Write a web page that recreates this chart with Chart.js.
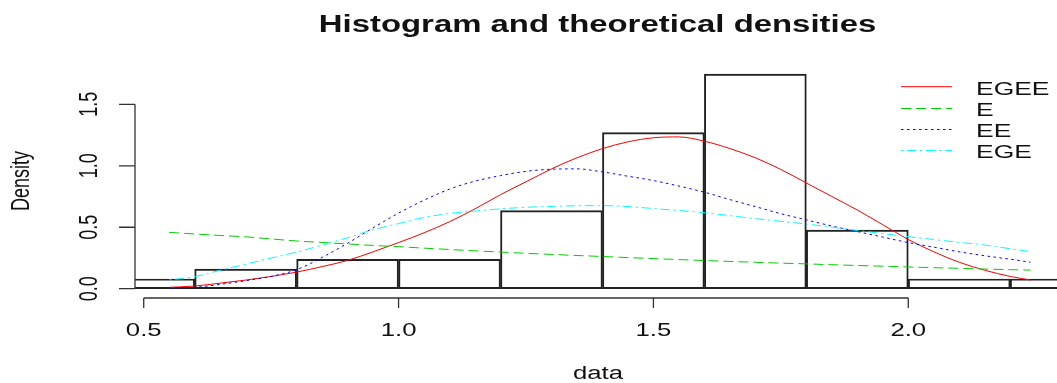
<!DOCTYPE html>
<html>
<head>
<meta charset="utf-8">
<script src="https://cdn.jsdelivr.net/npm/chart.js@4.4.1/dist/chart.umd.min.js"></script>
<style>
html,body{margin:0;padding:0;background:#ffffff;}
#wrap{width:1057px;height:383px;position:relative;}
</style>
</head>
<body>
<div id="wrap"><canvas id="c"></canvas></div>
<script>
// ---- data ----
const binCenters = [0.5, 0.7, 0.9, 1.1, 1.3, 1.5, 1.7, 1.9, 2.1, 2.3];
const binDensity = [0.079, 0.159, 0.238, 0.238, 0.635, 1.270, 1.746, 0.476, 0.079, 0.079];

const curveX = [0.55, 0.60, 0.65, 0.70, 0.75, 0.80, 0.85, 0.90, 0.95, 1.00, 1.05, 1.10, 1.15, 1.20, 1.25, 1.30, 1.35, 1.40, 1.45, 1.50, 1.55, 1.60, 1.65, 1.70, 1.75, 1.80, 1.85, 1.90, 1.95, 2.00, 2.05, 2.10, 2.15, 2.20, 2.24];
const egeeY = [0.011, 0.022, 0.045, 0.070, 0.100, 0.135, 0.180, 0.230, 0.300, 0.375, 0.455, 0.545, 0.650, 0.765, 0.870, 0.975, 1.065, 1.140, 1.195, 1.228, 1.235, 1.200, 1.140, 1.065, 0.970, 0.860, 0.750, 0.640, 0.520, 0.400, 0.300, 0.215, 0.150, 0.100, 0.070];
const eY    = [0.458, 0.445, 0.433, 0.422, 0.405, 0.388, 0.376, 0.364, 0.352, 0.342, 0.330, 0.319, 0.308, 0.298, 0.288, 0.279, 0.270, 0.262, 0.253, 0.245, 0.237, 0.229, 0.222, 0.215, 0.208, 0.202, 0.195, 0.189, 0.183, 0.177, 0.171, 0.166, 0.160, 0.155, 0.151];
const eeY   = [0.004, 0.011, 0.035, 0.065, 0.100, 0.155, 0.255, 0.370, 0.495, 0.615, 0.720, 0.810, 0.875, 0.920, 0.955, 0.972, 0.975, 0.950, 0.915, 0.880, 0.835, 0.785, 0.725, 0.668, 0.610, 0.560, 0.510, 0.465, 0.420, 0.375, 0.338, 0.300, 0.268, 0.240, 0.215];
const egeY  = [0.071, 0.098, 0.150, 0.200, 0.250, 0.298, 0.355, 0.415, 0.480, 0.530, 0.580, 0.612, 0.632, 0.650, 0.662, 0.670, 0.675, 0.676, 0.668, 0.652, 0.636, 0.618, 0.594, 0.570, 0.548, 0.526, 0.500, 0.474, 0.448, 0.423, 0.400, 0.377, 0.355, 0.325, 0.302];

const seriesNames = ['EGEE', 'E', 'EE', 'EGE'];
const xTicks = [0.5, 1.0, 1.5, 2.0];
const xTickLabels = ['0.5', '1.0', '1.5', '2.0'];
const yTicks = [0.0, 0.5, 1.0, 1.5];
const yTickLabels = ['0.0', '0.5', '1.0', '1.5'];
const titleText = 'Histogram and theoretical densities';
const xTitle = 'data';
const yTitle = 'Density';

// ---- styles ----
const FONT = '"Liberation Sans", Arial, Helvetica, sans-serif';
const SX = 1.43; // horizontal text stretch of the reference
const colors = ['#ff0000', '#00cd00', '#0000ff', '#00ffff'];
const dashes = [[], [10, 5], [2.5, 3.5], [2, 4, 9, 4]];
const AXIS = '#333333';

function pts(xs, ys) { return xs.map((x, i) => ({ x: x, y: ys[i] })); }

function stext(ctx, str, x, y, font, align, baseline, rot) {
  ctx.save();
  ctx.translate(x, y);
  ctx.scale(SX, 1);
  if (rot) ctx.rotate(rot);
  ctx.font = font;
  ctx.fillStyle = '#111111';
  ctx.textAlign = align;
  ctx.textBaseline = baseline;
  ctx.fillText(str, 0, 0);
  ctx.restore();
}

const rAxes = {
  id: 'rAxes',
  afterDraw(chart) {
    const ctx = chart.ctx;
    const xs = chart.scales.x, ys = chart.scales.y;
    const ca = chart.chartArea;
    ctx.save();
    ctx.strokeStyle = AXIS;
    ctx.lineWidth = 1.3;
    ctx.setLineDash([]);
    // x axis
    const xa = ca.bottom;
    const x0 = xs.getPixelForValue(xTicks[0]);
    const x1 = xs.getPixelForValue(xTicks[xTicks.length - 1]);
    ctx.beginPath();
    ctx.moveTo(x0, xa); ctx.lineTo(x1, xa);
    xTicks.forEach(v => { const p = xs.getPixelForValue(v); ctx.moveTo(p, xa); ctx.lineTo(p, xa + 10); });
    ctx.stroke();
    // y axis
    const ya = ca.left;
    const y0 = ys.getPixelForValue(yTicks[0]);
    const y1 = ys.getPixelForValue(yTicks[yTicks.length - 1]);
    ctx.beginPath();
    ctx.moveTo(ya, y0); ctx.lineTo(ya, y1);
    yTicks.forEach(v => { const p = ys.getPixelForValue(v); ctx.moveTo(ya, p); ctx.lineTo(ya - 16, p); });
    ctx.stroke();
    ctx.restore();

    const tickFont = '18px ' + FONT;
    xTicks.forEach((v, i) => stext(ctx, xTickLabels[i], xs.getPixelForValue(v), 336, tickFont, 'center', 'alphabetic', 0));
    yTicks.forEach((v, i) => stext(ctx, yTickLabels[i], 96.5, ys.getPixelForValue(v), tickFont, 'center', 'alphabetic', -Math.PI / 2));

    // titles
    stext(ctx, titleText, 597.5, 31.5, 'bold 23px ' + FONT, 'center', 'alphabetic', 0);
    stext(ctx, xTitle, 598, 379, '18px ' + FONT, 'center', 'alphabetic', 0);
    stext(ctx, yTitle, 28.5, 181, '18px ' + FONT, 'center', 'alphabetic', -Math.PI / 2);

    // legend (top right, no box)
    const ly = [86.7, 108.5, 129.5, 150.5];
    seriesNames.forEach((name, i) => {
      ctx.save();
      ctx.strokeStyle = colors[i];
      ctx.lineWidth = 1;
      ctx.setLineDash(dashes[i]);
      ctx.beginPath();
      ctx.moveTo(901, ly[i]); ctx.lineTo(952, ly[i]);
      ctx.stroke();
      ctx.restore();
      stext(ctx, name, 976, ly[i] + 7.8, '18.5px ' + FONT, 'left', 'alphabetic', 0);
    });
  }
};

const lineDs = (label, ys, i) => ({
  type: 'line',
  label: label,
  data: pts(curveX, ys),
  borderColor: colors[i],
  borderWidth: 1,
  borderDash: dashes[i],
  pointRadius: 0,
  fill: false,
  cubicInterpolationMode: 'monotone',
  order: 4 - i
});

new Chart(document.getElementById('c'), {
  type: 'bar',
  data: {
    datasets: [
      {
        type: 'bar',
        label: 'hist',
        data: pts(binCenters, binDensity),
        backgroundColor: 'rgba(0,0,0,0)',
        borderColor: '#222222',
        borderWidth: 1.3,
        borderSkipped: false,
        barPercentage: 1.0,
        categoryPercentage: 1.0,
        order: 5
      },
      lineDs(seriesNames[0], egeeY, 0),
      lineDs(seriesNames[1], eY, 1),
      lineDs(seriesNames[2], eeY, 2),
      lineDs(seriesNames[3], egeY, 3)
    ]
  },
  options: {
    responsive: true,
    maintainAspectRatio: false,
    animation: false,
    devicePixelRatio: 1,
    layout: { padding: { left: 135, right: 0, top: 47, bottom: 85 } },
    scales: {
      x: { type: 'linear', min: 0.4829, max: 2.2918, display: false, offset: false },
      y: { type: 'linear', min: -0.0757, max: 1.9666, display: false }
    },
    plugins: {
      legend: { display: false },
      title: { display: false },
      tooltip: { enabled: false }
    }
  },
  plugins: [rAxes]
});
</script>
</body>
</html>
